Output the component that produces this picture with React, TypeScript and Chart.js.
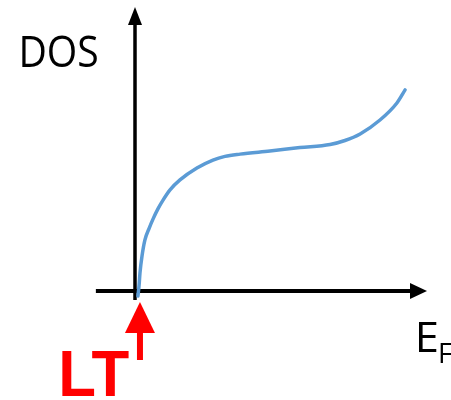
import React, { useEffect, useRef } from "react";
import { Chart, registerables } from "chart.js";

Chart.register(...registerables);

// Curve: density of states vs energy (arbitrary units)
const energy = [0.1, 0.14, 0.17, 0.24, 0.34, 0.48, 0.62, 0.79, 0.96, 1.2, 1.54, 2.12, 2.67, 3.08, 3.6, 4.62, 5.65, 6.68, 7.19, 7.71, 8.39, 8.97, 9.25];
const dos = [-0.18, 0.21, 0.63, 1.23, 1.8, 2.2, 2.54, 2.9, 3.2, 3.56, 3.91, 4.33, 4.61, 4.74, 4.82, 4.93, 5.05, 5.16, 5.3, 5.53, 6.02, 6.62, 7.08];

// Axis extents (data units)
const xAxisRange = [-1.34, 10];
const yAxisRange = [-0.32, 10];
const ltEnergy = 0.17;

// Labels
const yLabel = "DOS";
const xLabelMain = "E";
const xLabelSub = "F";
const markerLabel = "LT";

function fitText(
  ctx: CanvasRenderingContext2D,
  text: string,
  family: string,
  weight: string,
  left: number,
  capTop: number,
  baseline: number,
  width?: number
) {
  const cap = baseline - capTop;
  ctx.font = `${weight} 100px ${family}`;
  const hm = ctx.measureText("H");
  const ratio = hm.actualBoundingBoxAscent / 100 || 0.72;
  const size = cap / ratio;
  ctx.font = `${weight} ${size}px ${family}`;
  const m = ctx.measureText(text);
  const ink = m.actualBoundingBoxLeft + m.actualBoundingBoxRight;
  const sx = width ? width / ink : 1;
  ctx.save();
  ctx.textAlign = "left";
  ctx.textBaseline = "alphabetic";
  ctx.translate(left, baseline);
  ctx.scale(sx, 1);
  ctx.fillText(text, m.actualBoundingBoxLeft, 0);
  ctx.restore();
}

const diagramPlugin = {
  id: "diagram",
  beforeDatasetsDraw(chart: any) {
    const ctx: CanvasRenderingContext2D = chart.ctx;
    const xs = chart.scales.x;
    const ys = chart.scales.y;
    const ox = xs.getPixelForValue(0);
    const oy = ys.getPixelForValue(0);
    ctx.save();
    ctx.fillStyle = "#000";
    ctx.strokeStyle = "#000";
    // horizontal axis
    const xTip = xs.getPixelForValue(xAxisRange[1]);
    ctx.lineWidth = 4;
    ctx.beginPath();
    ctx.moveTo(xs.getPixelForValue(xAxisRange[0]), oy);
    ctx.lineTo(xTip - 14, oy);
    ctx.stroke();
    ctx.beginPath();
    ctx.moveTo(xTip, oy);
    ctx.lineTo(xTip - 17, oy - 8);
    ctx.lineTo(xTip - 17, oy + 8);
    ctx.closePath();
    ctx.fill();
    // vertical axis
    const yTip = ys.getPixelForValue(yAxisRange[1]);
    ctx.lineWidth = 3.5;
    ctx.beginPath();
    ctx.moveTo(ox, ys.getPixelForValue(yAxisRange[0]));
    ctx.lineTo(ox, yTip + 15);
    ctx.stroke();
    ctx.beginPath();
    ctx.moveTo(ox, yTip);
    ctx.lineTo(ox - 7, yTip + 18);
    ctx.lineTo(ox + 7, yTip + 18);
    ctx.closePath();
    ctx.fill();
    ctx.restore();
  },
  afterDatasetsDraw(chart: any) {
    const ctx: CanvasRenderingContext2D = chart.ctx;
    const xs = chart.scales.x;
    const ys = chart.scales.y;
    const oy = ys.getPixelForValue(0);
    const cx = xs.getPixelForValue(ltEnergy);
    ctx.save();
    // red marker arrow
    ctx.fillStyle = "#FF0000";
    const tip = oy + 11;
    ctx.beginPath();
    ctx.moveTo(cx, tip);
    ctx.lineTo(cx - 15, tip + 31);
    ctx.lineTo(cx + 15, tip + 31);
    ctx.closePath();
    ctx.fill();
    ctx.fillRect(cx - 3, tip + 30, 6, 28);
    // labels
    ctx.fillStyle = "#FF0000";
    fitText(ctx, markerLabel, "'Liberation Sans', Arial, sans-serif", "bold", 62, 350, 396, 67);
    ctx.fillStyle = "#000";
    fitText(ctx, yLabel, "'Open Sans', sans-serif", "normal", 22, 35, 67, 75);
    fitText(ctx, xLabelMain, "'Open Sans', sans-serif", "normal", 419, 322, 352, 18);
    fitText(ctx, xLabelSub, "'Open Sans', sans-serif", "normal", 440, 343, 363, 12);
    ctx.restore();
  },
};

export default function App() {
  const ref = useRef<HTMLCanvasElement | null>(null);
  useEffect(() => {
    if (!ref.current) return;
    const chart = new Chart(ref.current, {
      type: "scatter",
      data: {
        datasets: [
          {
            data: energy.map((e, i) => ({ x: e, y: dos[i] })),
            showLine: true,
            borderColor: "#5B9BD5",
            borderWidth: 3.5,
            pointRadius: 0,
            cubicInterpolationMode: "monotone",
            fill: false,
          },
        ],
      },
      options: {
        responsive: false,
        animation: false,
        devicePixelRatio: 1,
        layout: { padding: { left: 135, right: 24, top: 7, bottom: 109 } },
        plugins: { legend: { display: false }, tooltip: { enabled: false } },
        scales: {
          x: { type: "linear", min: 0, max: 10, display: false },
          y: { type: "linear", min: 0, max: 10, display: false },
        },
        elements: { line: { borderCapStyle: "round", borderJoinStyle: "round" } },
        clip: false as any,
      },
      plugins: [diagramPlugin],
    });
    return () => chart.destroy();
  }, []);
  return (
    <div style={{ position: "fixed", left: 0, top: 0, width: 451, height: 400, background: "#fff" }}>
      <canvas ref={ref} width={451} height={400} style={{ width: 451, height: 400, display: "block" }} />
    </div>
  );
}
